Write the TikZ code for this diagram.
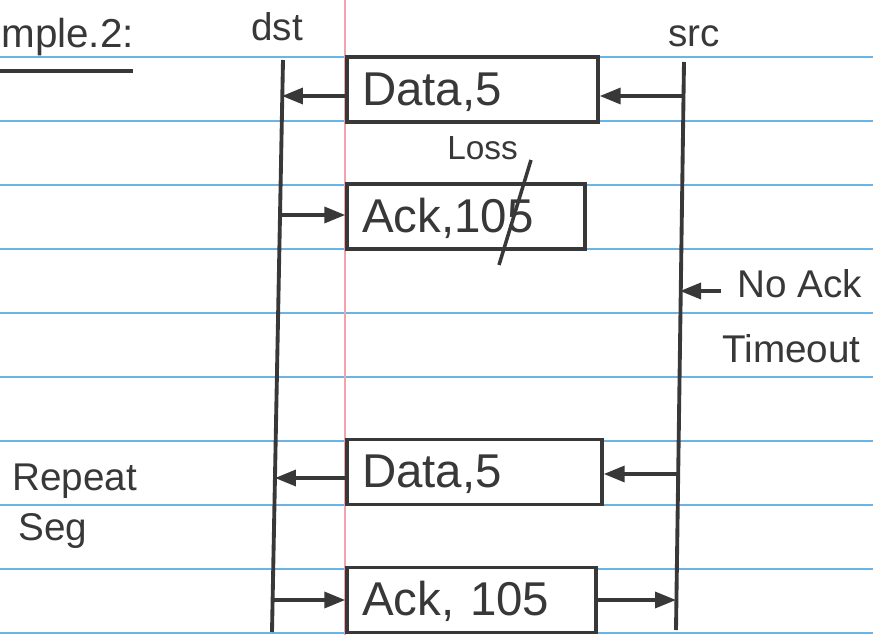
\documentclass[tikz,border=0pt]{standalone}
\usepackage{fontspec}
\setmainfont{Liberation Sans}
\usetikzlibrary{arrows.meta}
\definecolor{ink}{HTML}{383838}
\definecolor{ruleblue}{HTML}{6DB4E6}
\definecolor{margin}{HTML}{F2A3AE}

\begin{document}
\begin{tikzpicture}[x=0.02cm,y=-0.02cm,
	seg/.style={draw=ink,line width=2pt,fill=white,minimum height=1.3cm,inner xsep=0.3cm,text height=22pt,text depth=4pt,align=left,font=\fontsize{27}{30}\selectfont,text=ink},
	lbl/.style={anchor=base west,inner sep=0pt,font=\fontsize{22}{26}\selectfont,text=ink},
	sig/.style={draw=ink,line width=2pt,-{Triangle[length=0.42cm,width=0.32cm]}},
	life/.style={draw=ink,line width=2.2pt}]
\useasboundingbox (0,0) rectangle (873,635);
\foreach \y in {57,121,...,633}
	\draw[ruleblue,line width=1pt] (0,\y) -- (873,\y);
\draw[margin,line width=0.6pt] (345,0) -- (345,635);

\node[lbl,font=\fontsize{23}{28}\selectfont] (title) at (1,48) {mple.2:};
\draw[ink,line width=2pt] (0,71) -- (133,71);

\node[lbl] (dst) at (251,41) {dst};
\node[lbl] (src) at (668,47) {src};
\coordinate (dtop) at (283,60);
\coordinate (dbot) at (272,632);
\coordinate (stop) at (684,62);
\coordinate (sbot) at (676,630);
\draw[life] (dtop) -- (dbot);
\draw[life] (stop) -- (sbot);

\node[seg,text width=4.42cm] (data1) at (472.5,89.5) {Data,5};
\node[seg,text width=4.16cm] (ack1) at (466,216.5) {Ack,105};
\node[seg,text width=4.5cm] (data2) at (474.5,472) {Data,5};
\node[seg,text width=4.38cm] (ack2) at (471.5,600) {Ack, 105};

\coordinate (d1) at (282,96);
\coordinate (s1) at (683,96);
\coordinate (d2) at (280,215);
\coordinate (s2) at (680,291);
\coordinate (d3) at (275,478);
\coordinate (s3) at (677,474);
\coordinate (d4) at (273,600);
\coordinate (s4) at (676,600);

\draw[sig] (s1) -- (s1 -| data1.east);
\draw[sig] (d1 -| data1.west) -- (d1);
\draw[sig] (d2) -- (d2 -| ack1.west);
\draw[sig] (s3) -- (s3 -| data2.east);
\draw[sig] (d3 -| data2.west) -- (d3);
\draw[sig] (d4) -- (d4 -| ack2.west);
\draw[sig] (s4 -| ack2.east) -- (s4);

\node[lbl,font=\fontsize{19}{22}\selectfont] (loss) at (447,160) {Loss};
\coordinate (cut1) at (531,160);
\coordinate (cut2) at (499,265);
\draw[ink,line width=2pt] (cut1) -- (cut2);

\node[lbl] (noack) at (737,297) {No Ack};
\coordinate (na) at (721,291);
\draw[sig] (na) -- (s2);
\node[lbl] (timeout) at (722,362) {Timeout};

\node[lbl] (repeat) at (12,490) {Repeat};
\node[lbl] (segtxt) at (18,540) {Seg};
\end{tikzpicture}
\end{document}
